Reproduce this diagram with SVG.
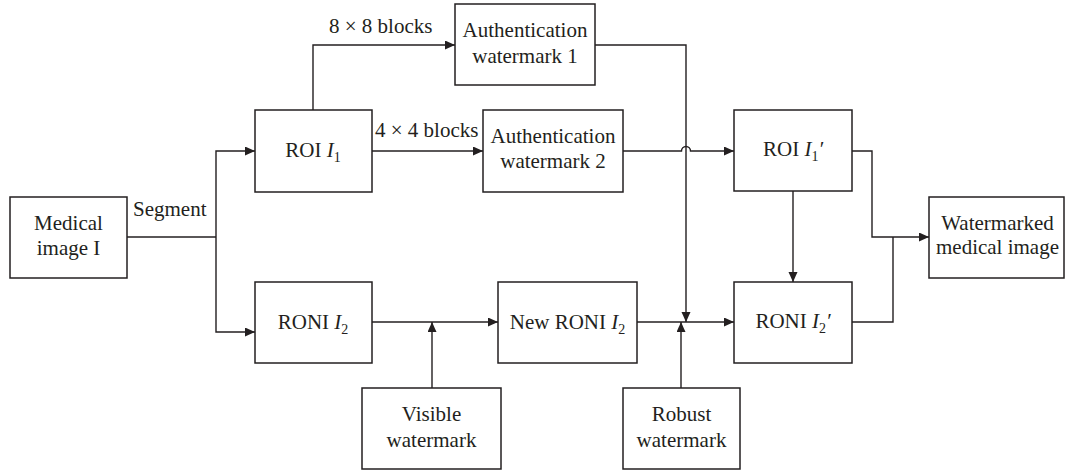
<svg xmlns="http://www.w3.org/2000/svg" width="1065" height="470" viewBox="0 0 1065 470">
<style>
.box{fill:#fff;stroke:#231f20;stroke-width:1.5}
.t{font-family:"Liberation Serif","Times New Roman",serif;font-size:21px;fill:#231f20;text-anchor:middle}
.l{font-family:"Liberation Serif","Times New Roman",serif;font-size:21px;fill:#231f20}
.c{fill:none;stroke:#231f20;stroke-width:1.4}
.i{font-style:italic}
.s{font-size:14px}
</style>
<defs>
<marker id="ah" markerUnits="userSpaceOnUse" markerWidth="11" markerHeight="10" refX="10" refY="4.5" orient="auto">
<path d="M0,0 L10,4.5 L0,9 Z" fill="#231f20"/>
</marker>
</defs>
<rect width="1065" height="470" fill="#fff"/>
<g id="connectors">
<path class="c" d="M127,237 H216"/>
<path class="c" d="M216,237 V151 H255" marker-end="url(#ah)"/>
<path class="c" d="M216,237 V332 H255" marker-end="url(#ah)"/>
<path class="c" d="M313,110 V45 H455" marker-end="url(#ah)"/>
<path class="c" d="M372,151 H483" marker-end="url(#ah)"/>
<path class="c" d="M595,45 H686 V322" marker-end="url(#ah)"/>
<path class="c" d="M623,151 H681.5 A4.5,4.5 0 0 1 690.5,151 H734" marker-end="url(#ah)"/>
<path class="c" d="M372,322 H498" marker-end="url(#ah)"/>
<path class="c" d="M432,388 V322" marker-end="url(#ah)"/>
<path class="c" d="M637,322 H734" marker-end="url(#ah)"/>
<path class="c" d="M681,388 V322" marker-end="url(#ah)"/>
<path class="c" d="M793,191 V282" marker-end="url(#ah)"/>
<path class="c" d="M852,151 H872 V237 H929" marker-end="url(#ah)"/>
<path class="c" d="M852,322 H893 V237"/>
<text class="l" x="329" y="33">8 × 8 blocks</text>
<text class="l" x="375" y="137">4 × 4 blocks</text>
<text class="l" x="133" y="216">Segment</text>
</g>
<g id="medical">
<rect class="box" x="10" y="197" width="117" height="81"/>
<text class="t" x="68.5" y="230">Medical</text>
<text class="t" x="68.5" y="255">image I</text>
</g>
<g id="roi">
<rect class="box" x="255" y="110" width="117" height="82"/>
<text class="t" x="313" y="157">ROI <tspan class="i">I</tspan><tspan class="s" dy="5">1</tspan></text>
</g>
<g id="roni">
<rect class="box" x="255" y="282" width="117" height="81"/>
<text class="t" x="313" y="329">RONI <tspan class="i">I</tspan><tspan class="s" dy="5">2</tspan></text>
</g>
<g id="auth1">
<rect class="box" x="455" y="4" width="140" height="81"/>
<text class="t" x="525" y="37">Authentication</text>
<text class="t" x="525" y="63">watermark 1</text>
</g>
<g id="auth2">
<rect class="box" x="483" y="110" width="140" height="82"/>
<text class="t" x="553" y="143">Authentication</text>
<text class="t" x="553" y="168">watermark 2</text>
</g>
<g id="newroni">
<rect class="box" x="498" y="282" width="139" height="81"/>
<text class="t" x="567.5" y="329">New RONI <tspan class="i">I</tspan><tspan class="s" dy="5">2</tspan></text>
</g>
<g id="visible">
<rect class="box" x="362" y="388" width="139" height="81"/>
<text class="t" x="431.5" y="421">Visible</text>
<text class="t" x="431.5" y="447">watermark</text>
</g>
<g id="robust">
<rect class="box" x="623" y="388" width="117" height="81"/>
<text class="t" x="681.5" y="421">Robust</text>
<text class="t" x="681.5" y="447">watermark</text>
</g>
<g id="roi1p">
<rect class="box" x="734" y="110" width="118" height="81"/>
<text class="t" x="793" y="156">ROI <tspan class="i">I</tspan><tspan class="s" dy="5">1</tspan><tspan class="i" dy="-5">′</tspan></text>
</g>
<g id="roni2p">
<rect class="box" x="734" y="282" width="118" height="81"/>
<text class="t" x="793" y="328">RONI <tspan class="i">I</tspan><tspan class="s" dy="5">2</tspan><tspan class="i" dy="-5">′</tspan></text>
</g>
<g id="output">
<rect class="box" x="929" y="197" width="135" height="81"/>
<text class="t" x="997.5" y="230">Watermarked</text>
<text class="t" x="997.5" y="254">medical image</text>
</g>
</svg>
